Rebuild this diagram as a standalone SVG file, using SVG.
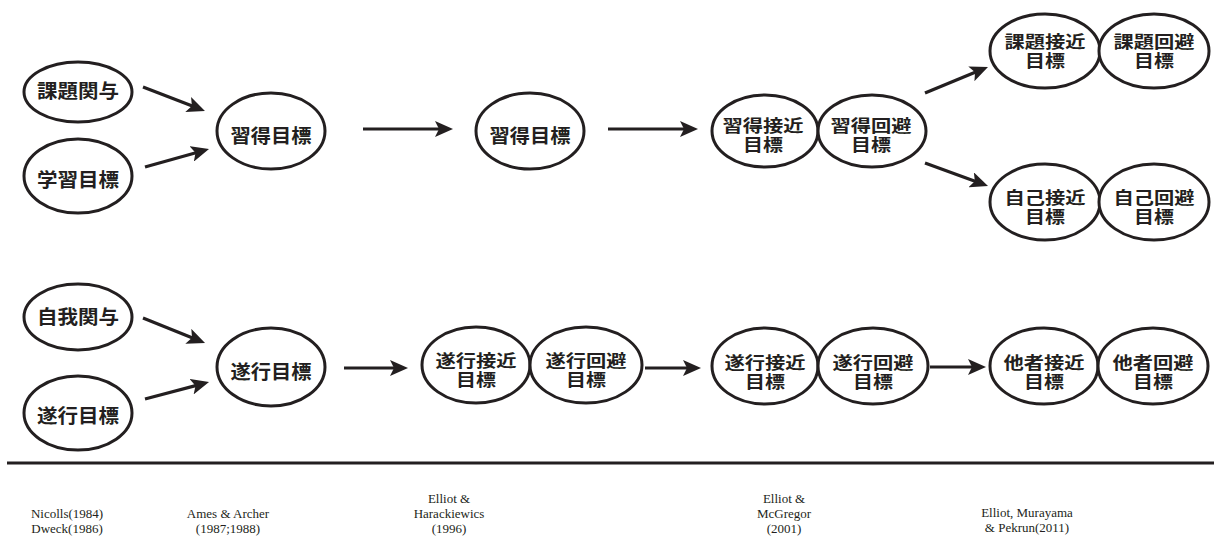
<svg xmlns="http://www.w3.org/2000/svg" width="1214" height="536" viewBox="0 0 1214 536">
<style>
.n ellipse{fill:#fff;stroke:#231f20;stroke-width:3}
.n text{font-family:"Noto Sans CJK JP","Noto Sans CJK SC",sans-serif;font-size:18px;font-weight:700;fill:#231f20;text-anchor:middle;dominant-baseline:central}
.n text.s{font-size:19px}
.n text.t{font-size:16.5px}
.c line{stroke:#231f20;stroke-width:3.2;marker-end:url(#ah)}
.ref text{font-family:"Liberation Serif",serif;font-size:13px;fill:#231f20;text-anchor:middle}
</style>
<defs>
<marker id="ah" markerUnits="userSpaceOnUse" viewBox="0 0 18 16" markerWidth="18" markerHeight="16" refX="10" refY="8" orient="auto">
<path d="M0,0 L18,8 L0,16 L4,8 z" fill="#231f20"/>
</marker>
</defs>
<rect width="1214" height="536" fill="#fff"/>
<g class="c" id="connectors">
<line x1="143" y1="87" x2="197.5" y2="108.1"/>
<line x1="145" y1="167" x2="201.3" y2="151.2"/>
<line x1="363" y1="129" x2="445" y2="129"/>
<line x1="608" y1="129" x2="690" y2="129"/>
<line x1="925" y1="93" x2="980.6" y2="70"/>
<line x1="925" y1="163" x2="980.5" y2="183.3"/>
<line x1="143" y1="318" x2="197.6" y2="340"/>
<line x1="145" y1="399" x2="201.3" y2="384.1"/>
<line x1="344" y1="368" x2="400" y2="368"/>
<line x1="645" y1="368" x2="693" y2="368"/>
<line x1="930" y1="367" x2="978" y2="367"/>
</g>
<g class="n" id="n-kadai-kanyo"><ellipse cx="78" cy="92" rx="54" ry="30"/><text class="s" x="78" y="89" textLength="82" lengthAdjust="spacingAndGlyphs">課題関与</text></g>
<g class="n" id="n-gakushu"><ellipse cx="78" cy="176" rx="54" ry="37"/><text class="s" x="78" y="178" textLength="82" lengthAdjust="spacingAndGlyphs">学習目標</text></g>
<g class="n" id="n-shutoku1"><ellipse cx="271" cy="131" rx="54" ry="38"/><text class="s" x="271" y="134" textLength="81" lengthAdjust="spacingAndGlyphs">習得目標</text></g>
<g class="n" id="n-shutoku2"><ellipse cx="530" cy="131" rx="54" ry="38"/><text class="s" x="530" y="134" textLength="81" lengthAdjust="spacingAndGlyphs">習得目標</text></g>
<g class="n" id="n-shutoku-sekkin"><ellipse cx="765" cy="131" rx="53" ry="36"/><text class="t" x="763" y="124.5" textLength="81" lengthAdjust="spacingAndGlyphs">習得接近</text><text class="t" x="763" y="144" textLength="40" lengthAdjust="spacingAndGlyphs">目標</text></g>
<g class="n" id="n-shutoku-kaihi"><ellipse cx="872" cy="131" rx="54" ry="36"/><text class="t" x="871" y="124.5" textLength="81" lengthAdjust="spacingAndGlyphs">習得回避</text><text class="t" x="871" y="144" textLength="40" lengthAdjust="spacingAndGlyphs">目標</text></g>
<g class="n" id="n-kadai-sekkin"><ellipse cx="1045" cy="51" rx="55" ry="37"/><text class="t" x="1045" y="40.5" textLength="81" lengthAdjust="spacingAndGlyphs">課題接近</text><text class="t" x="1045" y="60" textLength="40" lengthAdjust="spacingAndGlyphs">目標</text></g>
<g class="n" id="n-kadai-kaihi"><ellipse cx="1154" cy="51" rx="55" ry="37"/><text class="t" x="1154" y="40.5" textLength="81" lengthAdjust="spacingAndGlyphs">課題回避</text><text class="t" x="1154" y="60" textLength="40" lengthAdjust="spacingAndGlyphs">目標</text></g>
<g class="n" id="n-jiko-sekkin"><ellipse cx="1045" cy="202" rx="55" ry="38"/><text class="t" x="1045" y="196.5" textLength="81" lengthAdjust="spacingAndGlyphs">自己接近</text><text class="t" x="1045" y="216" textLength="40" lengthAdjust="spacingAndGlyphs">目標</text></g>
<g class="n" id="n-jiko-kaihi"><ellipse cx="1154" cy="202" rx="55" ry="38"/><text class="t" x="1154" y="196.5" textLength="81" lengthAdjust="spacingAndGlyphs">自己回避</text><text class="t" x="1154" y="216" textLength="40" lengthAdjust="spacingAndGlyphs">目標</text></g>
<g class="n" id="n-jiga-kanyo"><ellipse cx="78" cy="317" rx="54" ry="33"/><text class="s" x="78" y="315" textLength="82" lengthAdjust="spacingAndGlyphs">自我関与</text></g>
<g class="n" id="n-suiko-left"><ellipse cx="78" cy="413" rx="54" ry="37"/><text class="s" x="78" y="414" textLength="82" lengthAdjust="spacingAndGlyphs">遂行目標</text></g>
<g class="n" id="n-suiko-mid"><ellipse cx="271" cy="367" rx="54" ry="39"/><text class="s" x="271" y="370" textLength="81" lengthAdjust="spacingAndGlyphs">遂行目標</text></g>
<g class="n" id="n-suiko-sekkin1"><ellipse cx="476" cy="365" rx="54" ry="38"/><text class="t" x="476" y="359.5" textLength="81" lengthAdjust="spacingAndGlyphs">遂行接近</text><text class="t" x="476" y="379" textLength="40" lengthAdjust="spacingAndGlyphs">目標</text></g>
<g class="n" id="n-suiko-kaihi1"><ellipse cx="586" cy="365" rx="56" ry="38"/><text class="t" x="586" y="359.5" textLength="81" lengthAdjust="spacingAndGlyphs">遂行回避</text><text class="t" x="586" y="379" textLength="40" lengthAdjust="spacingAndGlyphs">目標</text></g>
<g class="n" id="n-suiko-sekkin2"><ellipse cx="765" cy="366" rx="53" ry="38"/><text class="t" x="765" y="361.5" textLength="81" lengthAdjust="spacingAndGlyphs">遂行接近</text><text class="t" x="765" y="381" textLength="40" lengthAdjust="spacingAndGlyphs">目標</text></g>
<g class="n" id="n-suiko-kaihi2"><ellipse cx="873" cy="366" rx="55" ry="38"/><text class="t" x="873" y="361.5" textLength="81" lengthAdjust="spacingAndGlyphs">遂行回避</text><text class="t" x="873" y="381" textLength="40" lengthAdjust="spacingAndGlyphs">目標</text></g>
<g class="n" id="n-tasha-sekkin"><ellipse cx="1044" cy="366" rx="54" ry="38"/><text class="t" x="1044" y="361.5" textLength="81" lengthAdjust="spacingAndGlyphs">他者接近</text><text class="t" x="1044" y="381" textLength="40" lengthAdjust="spacingAndGlyphs">目標</text></g>
<g class="n" id="n-tasha-kaihi"><ellipse cx="1153" cy="366" rx="55" ry="38"/><text class="t" x="1153" y="361.5" textLength="81" lengthAdjust="spacingAndGlyphs">他者回避</text><text class="t" x="1153" y="381" textLength="40" lengthAdjust="spacingAndGlyphs">目標</text></g>
<line x1="7" y1="463" x2="1214" y2="463" stroke="#231f20" stroke-width="3"/>
<g class="ref" id="references">
<text x="67" y="518">Nicolls(1984)</text>
<text x="67" y="533">Dweck(1986)</text>
<text x="228" y="518">Ames &amp; Archer</text>
<text x="228" y="533">(1987;1988)</text>
<text x="449" y="503">Elliot &amp;</text>
<text x="449" y="518">Harackiewics</text>
<text x="449" y="533">(1996)</text>
<text x="784" y="503">Elliot &amp;</text>
<text x="784" y="518">McGregor</text>
<text x="784" y="533">(2001)</text>
<text x="1027" y="517">Elliot, Murayama</text>
<text x="1027" y="532">&amp; Pekrun(2011)</text>
</g>
</svg>
